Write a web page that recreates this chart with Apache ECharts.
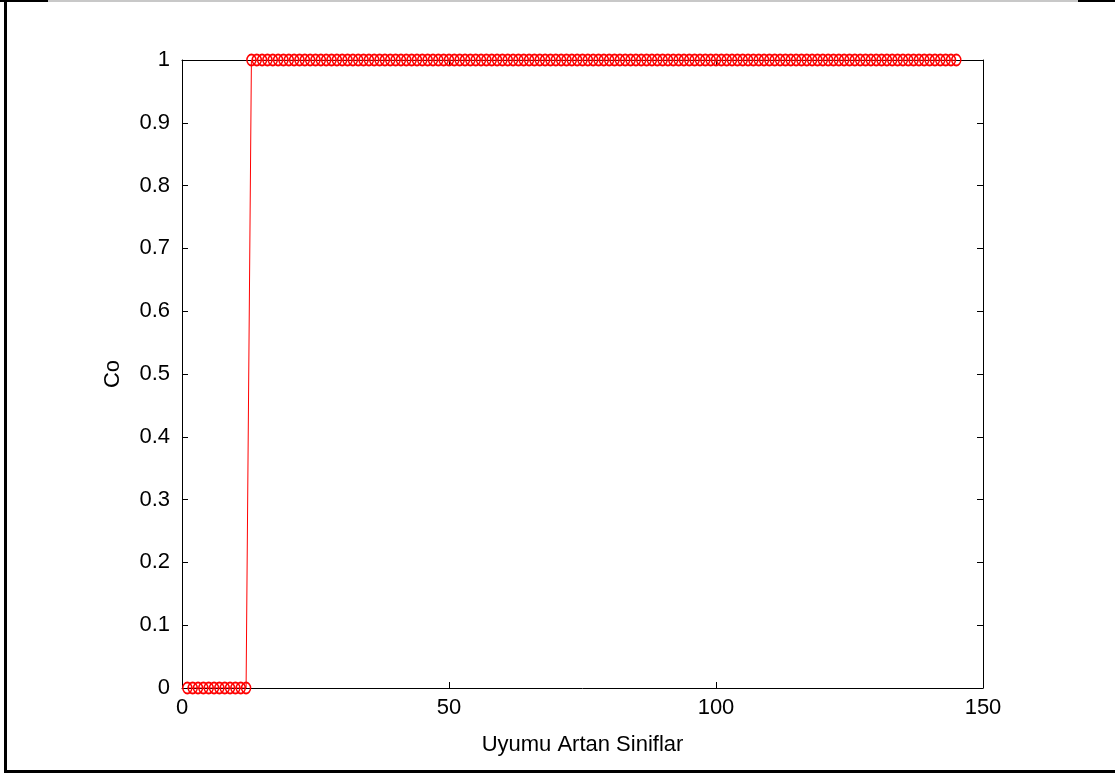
<!DOCTYPE html>
<html>
<head>
<meta charset="utf-8">
<script src="https://cdn.jsdelivr.net/npm/echarts@6/dist/echarts.min.js"></script>
<style>
  html, body { margin: 0; padding: 0; background: #fff; }
  #chart { width: 1115px; height: 774px; }
</style>
</head>
<body>
<div id="chart"></div>
<script>
// Co value for each class, in increasing order of fit (class 1 .. 145)
const coValues = [
  0,0,0,0,0,0,0,0,0,0,   // 1-10
  0,0,1,1,1,1,1,1,1,1,   // 11-20
  1,1,1,1,1,1,1,1,1,1,   // 21-30
  1,1,1,1,1,1,1,1,1,1,   // 31-40
  1,1,1,1,1,1,1,1,1,1,   // 41-50
  1,1,1,1,1,1,1,1,1,1,   // 51-60
  1,1,1,1,1,1,1,1,1,1,   // 61-70
  1,1,1,1,1,1,1,1,1,1,   // 71-80
  1,1,1,1,1,1,1,1,1,1,   // 81-90
  1,1,1,1,1,1,1,1,1,1,   // 91-100
  1,1,1,1,1,1,1,1,1,1,   // 101-110
  1,1,1,1,1,1,1,1,1,1,   // 111-120
  1,1,1,1,1,1,1,1,1,1,   // 121-130
  1,1,1,1,1,1,1,1,1,1,   // 131-140
  1,1,1,1,1              // 141-145
];
const xTicks = [0, 50, 100, 150];
const yTicks = [0, 0.1, 0.2, 0.3, 0.4, 0.5, 0.6, 0.7, 0.8, 0.9, 1];
const xTitle = 'Uyumu Artan Siniflar';
const yTitle = 'Co';

const points = coValues.map((v, i) => [i + 1, v]);

const font = 'Liberation Sans, Arial, sans-serif';
const fontSize = 22;
const axisLine = { show: true, onZero: false, lineStyle: { color: '#000', width: 1 } };
const inTicks = { show: true, inside: true, length: 6, lineStyle: { color: '#000' } };

const chart = echarts.init(document.getElementById('chart'), null, { renderer: 'canvas' });
chart.setOption({
  animation: false,
  backgroundColor: '#fff',
  grid: { left: 182, right: 132, top: 60, bottom: 86, containLabel: false },
  xAxis: [
    {
      type: 'value', min: xTicks[0], max: xTicks[xTicks.length - 1], interval: 50,
      axisLine, axisTick: inTicks, splitLine: { show: false },
      axisLabel: { color: '#000', fontFamily: font, fontSize, margin: 9 },
      name: xTitle, nameLocation: 'middle', nameGap: 46,
      nameTextStyle: { color: '#000', fontFamily: font, fontSize }
    },
    {
      type: 'value', position: 'top', min: 0, max: 150, interval: 50,
      axisLine, axisTick: inTicks, axisLabel: { show: false }, splitLine: { show: false }
    }
  ],
  yAxis: [
    {
      type: 'value', min: yTicks[0], max: yTicks[yTicks.length - 1], interval: 0.1,
      axisLine, axisTick: inTicks, splitLine: { show: false },
      axisLabel: { color: '#000', fontFamily: font, fontSize, margin: 12,
        formatter: v => String(Math.round(v * 10) / 10) },
      name: yTitle, nameLocation: 'middle', nameGap: 58, nameRotate: 90,
      nameTextStyle: { color: '#000', fontFamily: font, fontSize }
    },
    {
      type: 'value', position: 'right', min: 0, max: 1, interval: 0.1,
      axisLine, axisTick: inTicks, axisLabel: { show: false }, splitLine: { show: false }
    }
  ],
  series: [{
    type: 'line',
    data: points,
    symbol: 'circle',
    symbolSize: [9, 11],
    showAllSymbol: true,
    lineStyle: { color: '#ff0000', width: 1 },
    itemStyle: { color: 'rgba(255,255,255,0)', borderColor: '#ff0000', borderWidth: 1.6 },
    z: 5
  }],
  graphic: [
    // outer frame of the figure
    { type: 'rect', shape: { x: 4, y: 0, width: 3, height: 773 }, style: { fill: '#000' } },
    { type: 'rect', shape: { x: 4, y: 770, width: 1111, height: 3 }, style: { fill: '#000' } },
    { type: 'rect', shape: { x: 0, y: 0, width: 48, height: 2 }, style: { fill: '#000' } },
    { type: 'rect', shape: { x: 48, y: 0, width: 1030, height: 2 }, style: { fill: '#c8c8c8' } },
    { type: 'rect', shape: { x: 1078, y: 0, width: 37, height: 2 }, style: { fill: '#000' } }
  ]
});
</script>
</body>
</html>
